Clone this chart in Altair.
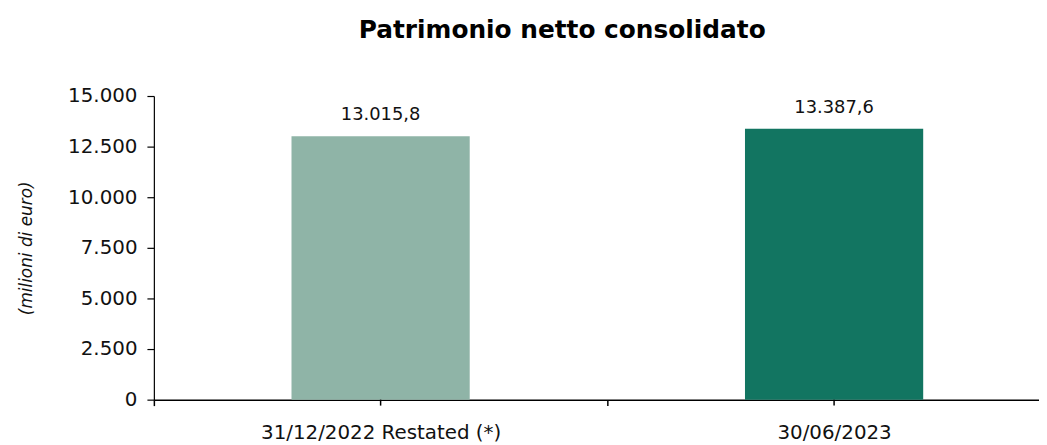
import altair as alt
import pandas as pd

categories = ["31/12/2022 Restated (*)", "30/06/2023"]
values = [13015.8, 13387.6]
bar_colors = ["#8FB4A7", "#127561"]
y_ticks = [0, 2500, 5000, 7500, 10000, 12500, 15000]


def it_fmt(v):
    s = f"{v:,.1f}"
    return s.replace(",", "X").replace(".", ",").replace("X", ".")


labels = [it_fmt(v) for v in values]
df = pd.DataFrame({"cat": categories, "val": values, "label": labels, "color": bar_colors})

FONT = "DejaVu Sans"
TXT = "#111111"
PLOT_W = 885
PLOT_H = 306

x_enc = alt.X(
    "cat:N",
    sort=categories,
    scale=alt.Scale(range=[0, 914], paddingInner=0, paddingOuter=0),
    axis=alt.Axis(
        title=None,
        tickBand="extent",
        labelAngle=0,
        labelFont=FONT,
        labelFontSize=20,
        labelColor=TXT,
        labelPadding=17,
        labelLimit=0,
        tickSize=6,
        tickColor="black",
        tickWidth=1.5,
        domainColor="black",
        domainWidth=1.5,
    ),
)

y_enc = alt.Y(
    "val:Q",
    scale=alt.Scale(domain=[0, 15000], nice=False),
    axis=alt.Axis(
        values=y_ticks,
        labelExpr="replace(format(datum.value, ','), ',', '.')",
        labelFont=FONT,
        labelFontSize=20,
        labelColor=TXT,
        labelPadding=10,
        tickSize=7,
        tickColor="black",
        tickWidth=1.2,
        domainColor="black",
        domainWidth=1.2,
        grid=False,
        title="(milioni di euro)",
        titleFont=FONT,
        titleFontSize=17,
        titleFontStyle="italic",
        titleFontWeight="normal",
        titleColor=TXT,
        titlePadding=32,
    ),
)

base = alt.Chart(df)

bars = base.mark_bar(width=alt.RelativeBandSize(0.393)).encode(
    x=x_enc,
    y=y_enc,
    color=alt.Color("color:N", scale=None),
)

texts = base.mark_text(
    baseline="bottom", dy=-12, font=FONT, fontSize=18, color=TXT
).encode(
    x=alt.X("cat:N", sort=categories, bandPosition=0.5),
    y=alt.Y("val:Q"),
    text="label:N",
)

center_ticks = base.mark_rule(color="black", strokeWidth=1.5).encode(
    x=alt.X("cat:N", sort=categories, bandPosition=0.5),
    y=alt.value(PLOT_H),
    y2=alt.value(PLOT_H + 6),
)

chart = (
    alt.layer(bars, texts, center_ticks)
    .properties(
        width=PLOT_W,
        height=PLOT_H,
        background="white",
        autosize=alt.AutoSizeParams(type="none"),
        padding={"left": 147, "top": 87, "right": 7, "bottom": 44},
        title=alt.Title(
            "Patrimonio netto consolidato",
            font=FONT,
            fontSize=25,
            fontWeight="bold",
            color="black",
            anchor="middle",
            frame="group",
            baseline="alphabetic",
            dx=-31,
            offset=23,
        ),
    )
    .configure_view(strokeWidth=0, stroke=None)
)

chart.save("out.html", embed_options={"renderer": "svg", "actions": False})
